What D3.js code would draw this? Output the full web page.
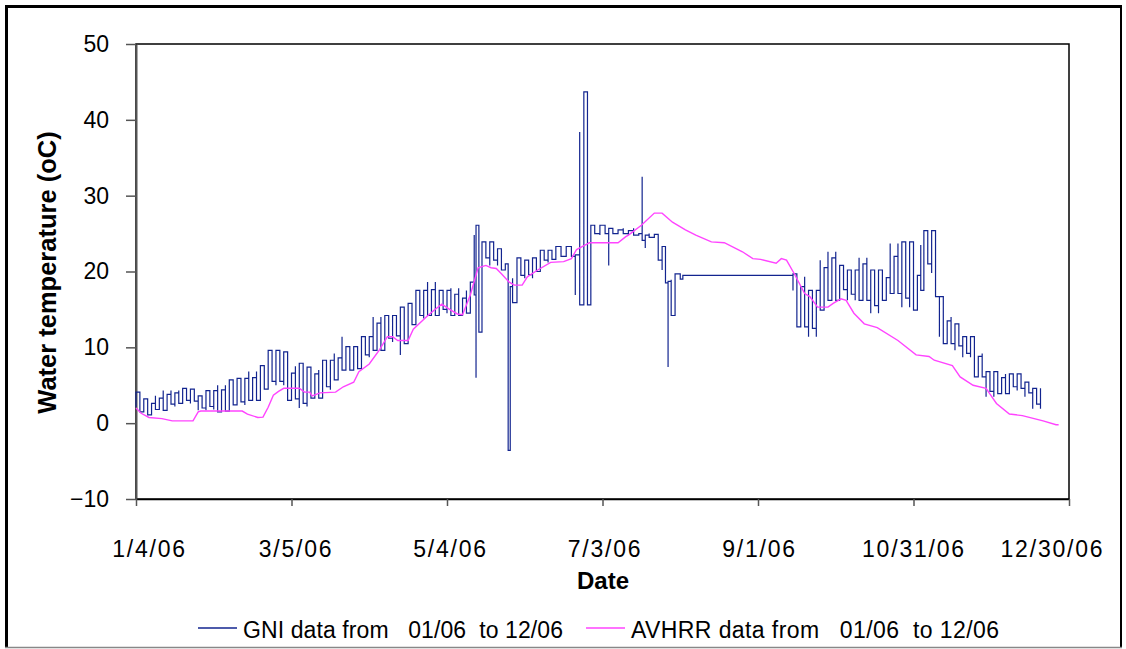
<!DOCTYPE html>
<html>
<head>
<meta charset="utf-8">
<script src="https://cdn.jsdelivr.net/npm/d3@7"></script>
<style>
  body { margin: 0; background: #fff; }
  svg { display: block; }
  text { font-family: 'Liberation Sans', Arial, sans-serif; fill: #000; }
</style>
</head>
<body>
<div id="chart"></div>
<script>
// days are counted from 1/4/06
let gniDay = [0, 1.5, 3, 4.5, 6, 7.5, 9, 10.5, 12, 13.5, 15, 16.5, 18, 19.5, 21, 22.5, 24, 25.5, 27, 28.5,
  30, 31.5, 33, 34.5, 36, 37.5, 39, 40.5, 42, 43.5, 45, 46.5, 48, 49.5, 51, 52.5, 54, 55.5, 57, 58.5,
  60, 61.5, 63, 64.5, 66, 67.5, 69, 70.5, 72, 73.5, 75, 76.5, 78, 79.5, 81, 82.5, 84, 85.5, 87, 88.5,
  90, 91.5, 93, 94.5, 96, 97.5, 99, 100.5, 102, 103.5, 105, 106.5, 108, 109.5, 111, 112.5, 114, 115.5, 117, 118.5,
  120, 121.5, 123, 124.5, 126, 127.5, 129, 130.5, 131.2, 132.3, 133.5, 135, 136.5, 138, 139.5, 141, 142.5, 143.6, 144.4, 145.3,
  147, 148.5, 150, 151.5, 153, 154.5, 156, 157.5, 159, 160.5, 162, 164, 166, 168, 169.5, 171.2, 172.8, 174.2, 175.5, 177,
  179, 181, 182.4, 184, 186, 188, 190, 192, 194, 195.3, 196.5, 198, 200, 201.5, 203, 204.3, 205.3, 206.5, 208, 210,
  211, 253, 253.5, 255, 256.5, 258, 259.5, 261, 262.5, 264, 265.5, 267, 268.5, 270, 271.5, 273, 274.5, 276, 277.5, 279,
  280.5, 282, 283.5, 285, 286.5, 288, 289.5, 291, 292.5, 294, 295.5, 297, 298.5, 300, 301.5, 302.8, 304, 305.5, 307, 308.5,
  310, 311.5, 313, 314.5, 316, 317.5, 319, 320.5, 322, 323.5, 325, 326.5, 328, 329.5, 331, 332.5, 334, 335.5, 337, 338.5,
  340, 341.5, 343, 344.5, 346, 347.5, 349]

let gniLow = [2.1, 1.5, 2.0, 1.1, 1.4, 1.8, 2.2, 1.7, 2.0, 2.5, 2.2, 2.6, 2.6, 3.0, 2.6, 2.9, 1.7, 2.0, 1.7, 2.2,
  1.8, 1.5, 2.0, 1.6, 1.7, 2.4, 2.4, 2.8, 2.4, 3.0, 3.4, 3.0, 4.1, 4.5, 4.8, 5.5, 5.0, 5.5, 5.0, 3.0,
  3.7, 3.2, 2.0, 2.6, 2.2, 3.3, 3.5, 3.3, 4.3, 4.8, 4.4, 5.7, 6.0, 7.0, 7.5, 7.0, 7.6, 7.2, 8.7, 9.0,
  8.7, 9.6, 10.2, 9.6, 10.7, 11.2, 10.7, 11.5, 9.0, 10.5, 12.7, 13.0, 13.8, 14.2, 13.8, 14.2, 14.8, 14.2, 14.5, 15.0,
  14.5, 14.2, 15.0, 14.2, 14.2, 14.5, 16.4, 16.9, 6.0, 12.0, 22.5, 21.8, 20.8, 21.5, 20.8, 20.2, 20.5, -3.6, 3.7, 15.9,
  19.1, 19.5, 19.1, 19.6, 19.1, 20.0, 21.2, 21.5, 21.2, 21.6, 21.9, 22.0, 21.9, 22.0, 16.9, 15.6, 15.8, 15.6, 24.8, 25.0,
  24.8, 25.0, 20.8, 25.0, 24.9, 25.0, 24.8, 24.8, 24.8, 24.1, 23.1, 24.5, 24.5, 21.5, 20.2, 18.5, 7.4, 14.2, 18.9, 19.0,
  19.5, 19.5, 17.5, 12.7, 14.0, 12.7, 11.4, 12.5, 11.4, 14.9, 15.5, 16.2, 17.0, 16.2, 17.1, 17.6, 16.2, 17.0, 16.2, 16.2,
  17.5, 16.2, 14.5, 15.5, 14.5, 16.2, 17.0, 17.1, 18.0, 17.1, 15.3, 16.5, 15.3, 14.9, 16.0, 17.5, 19.8, 21.0, 19.8, 16.7,
  11.4, 10.5, 11.2, 10.5, 9.6, 10.2, 8.7, 9.2, 8.7, 6.1, 6.8, 6.1, 3.5, 4.2, 3.5, 3.9, 4.5, 3.9, 4.3, 4.8,
  4.3, 4.6, 3.5, 4.0, 1.9, 2.5, 1.9]

let gniHigh = [4.1, 3.5, 3.2, 3.0, 2.6, 3.6, 3.3, 4.3, 3.8, 4.3, 4.0, 4.3, 4.6, 4.2, 4.5, 4.0, 3.6, 3.2, 4.3, 3.9,
  4.3, 5.0, 4.4, 5.0, 5.7, 5.0, 5.9, 5.5, 5.9, 6.8, 6.0, 6.8, 7.6, 7.0, 9.6, 9.0, 9.6, 9.2, 9.4, 7.9,
  6.6, 7.5, 7.9, 7.0, 7.4, 7.0, 6.5, 7.0, 8.3, 7.6, 8.3, 9.2, 8.6, 11.4, 10.1, 9.6, 10.1, 9.2, 11.4, 10.8,
  11.4, 14.0, 13.2, 14.0, 14.2, 13.6, 14.2, 13.8, 15.3, 14.5, 15.8, 15.0, 17.5, 16.6, 17.5, 18.6, 17.6, 18.6, 17.5, 16.8,
  17.5, 17.8, 17.0, 17.8, 16.5, 17.5, 18.6, 24.8, 26.1, 25.9, 23.9, 23.2, 23.9, 23.3, 23.0, 21.3, 21.0, 20.6, 18.0, 19.1,
  21.8, 21.2, 21.5, 21.0, 21.8, 21.2, 22.8, 22.2, 22.8, 22.5, 23.3, 22.6, 23.3, 22.4, 22.2, 38.4, 43.7, 42.5, 26.1, 25.8,
  26.1, 25.6, 25.7, 25.7, 25.5, 25.7, 25.4, 25.7, 25.0, 32.5, 24.8, 25.0, 24.9, 23.5, 23.3, 20.2, 18.7, 18.9, 19.7, 19.5,
  19.5, 19.5, 19.7, 19.3, 18.0, 19.3, 17.5, 16.0, 17.5, 21.5, 20.5, 22.6, 21.8, 22.6, 20.8, 20.2, 20.2, 19.6, 20.2, 21.8,
  21.0, 21.8, 20.2, 19.5, 20.2, 19.8, 19.2, 23.7, 22.0, 23.7, 23.9, 22.5, 23.9, 20.2, 19.5, 23.5, 25.4, 24.5, 25.4, 21.5,
  16.7, 14.0, 13.5, 14.0, 13.1, 12.5, 11.4, 11.0, 11.4, 9.2, 8.8, 9.2, 6.8, 6.2, 6.8, 6.5, 6.0, 6.5, 6.5, 6.0,
  6.5, 5.8, 5.4, 5.0, 4.6, 4.0, 4.6]

let avhrrDay = [0, 2, 5, 10, 14, 22, 24, 25, 41, 43, 47, 49, 51, 53, 55, 57, 63, 65, 67, 68,
  71, 77, 80, 84, 86, 90, 94, 97, 99, 101, 105, 107, 112, 115, 118, 121, 124, 126, 129, 132,
  135, 137, 139, 141, 144, 146, 149, 151, 155, 160, 165, 168, 170, 175, 186, 189, 190, 195, 200, 203,
  207, 212, 216, 222, 227, 234, 238, 241, 247, 249, 251, 254, 258, 260, 263, 267, 269, 272, 274, 277,
  281, 286, 294, 301, 306, 308, 315, 318, 323, 328, 332, 337, 342, 350, 355, 356]

let avhrrTemp = [2.0, 1.3, 0.75, 0.6, 0.3, 0.3, 1.5, 1.6, 1.6, 1.2, 0.75, 0.8, 2.1, 3.7, 4.2, 4.6, 4.6, 4.1, 4.1, 3.6,
  4.0, 4.1, 4.8, 5.4, 6.8, 7.8, 9.7, 11.4, 11.4, 10.9, 10.9, 12.4, 14.0, 14.9, 15.7, 15.0, 14.4, 14.3, 16.9, 20.5,
  20.8, 20.5, 20.4, 19.7, 18.6, 18.2, 18.2, 19.3, 20.2, 21.2, 21.3, 21.7, 22.9, 23.8, 23.8, 24.6, 24.8, 26.1, 27.7, 27.7,
  26.5, 25.5, 24.8, 23.9, 23.8, 22.6, 21.7, 21.6, 21.1, 21.7, 21.5, 19.7, 17.1, 16.7, 15.3, 15.3, 15.8, 16.4, 16.2, 14.5,
  13.1, 12.6, 10.9, 9.0, 8.8, 8.3, 7.6, 6.1, 5.0, 4.6, 2.6, 1.2, 1.0, 0.3, -0.2, -0.2]

let xTickDates = ['2006-01-04', '2006-03-05', '2006-05-04', '2006-07-03', '2006-09-01', '2006-10-31', '2006-12-30']
let yTickValues = [-10, 0, 10, 20, 30, 40, 50]

let width = 1126
let height = 649
let margin = { top: 44, left: 136, right: 57, bottom: 150 }

let parseDate = d3.timeParse('%Y-%m-%d')
let startDate = parseDate('2006-01-04')
let dayToDate = d => new Date(startDate.getTime() + d * 864e5)

let svg = d3
  .select('#chart')
  .append('svg')
  .attr('width', width)
  .attr('height', height)

// outer frame
svg.append('line').attr('x1', 6.5).attr('y1', 5).attr('x2', 6.5).attr('y2', 648)
  .attr('stroke', '#000').attr('stroke-width', 3)
svg.append('line').attr('x1', 5).attr('y1', 6.5).attr('x2', 1122).attr('y2', 6.5)
  .attr('stroke', '#000').attr('stroke-width', 3)
svg.append('line').attr('x1', 1121).attr('y1', 5).attr('x2', 1121).attr('y2', 648)
  .attr('stroke', '#000').attr('stroke-width', 2)
svg.append('line').attr('x1', 5).attr('y1', 647.5).attr('x2', 1122).attr('y2', 647.5)
  .attr('stroke', '#888').attr('stroke-width', 1.5)

let x = d3
  .scaleTime()
  .domain([startDate, parseDate('2006-12-30')])
  .range([margin.left, width - margin.right])

let y = d3
  .scaleLinear()
  .domain([-10, 50])
  .range([height - margin.bottom, margin.top])

// plot area border
svg
  .append('rect')
  .attr('x', x.range()[0])
  .attr('y', y.range()[1])
  .attr('width', x.range()[1] - x.range()[0])
  .attr('height', y.range()[0] - y.range()[1])
  .attr('fill', 'none')
  .attr('stroke', '#000')
  .attr('stroke-width', 1.5)

let yAxis = svg
  .append('g')
  .attr('transform', `translate(${margin.left},0)`)
  .call(d3.axisLeft(y).tickValues(yTickValues).tickSize(10).tickPadding(17).tickSizeOuter(0))

yAxis.select('.domain').attr('stroke', '#555').attr('stroke-width', 2)
yAxis.selectAll('.tick line').attr('stroke', '#555').attr('stroke-width', 1.5)
yAxis.selectAll('.tick text').attr('font-size', 23).attr('font-family', null)

let xAxis = svg
  .append('g')
  .attr('transform', `translate(0,${y(-10)})`)
  .call(
    d3.axisBottom(x)
      .tickValues(xTickDates.map(parseDate))
      .tickSize(7)
      .tickSizeOuter(0)
      .tickFormat(d3.timeFormat('%-m/%-d/%y'))
  )

xAxis.select('.domain').attr('stroke', '#000').attr('stroke-width', 1.5)
xAxis.selectAll('.tick line').attr('stroke', '#555').attr('stroke-width', 1.5)
xAxis
  .selectAll('.tick text')
  .attr('font-size', 23)
  .attr('font-family', null)
  .attr('letter-spacing', 1.8)
  .attr('y', 58)
  .attr('dy', 0)
  .attr('dx', (d, i) => (i === 0 ? 13 : i === xTickDates.length - 1 ? -17 : 5 - i))

// axis titles
svg
  .append('text')
  .attr('transform', `translate(56,${(y(50) + y(-10)) / 2 + 1}) rotate(-90)`)
  .attr('text-anchor', 'middle')
  .attr('font-size', 25.5)
  .attr('font-weight', 'bold')
  .text('Water temperature (oC)')

svg
  .append('text')
  .attr('x', 603)
  .attr('y', 589)
  .attr('text-anchor', 'middle')
  .attr('font-size', 24)
  .attr('font-weight', 'bold')
  .text('Date')

// GNI: each entry drawn as a vertical sweep from low to high
let gniPoints = []
gniDay.forEach((d, i) => {
  let t = dayToDate(d)
  if (i % 2 === 0) gniPoints.push([t, gniLow[i]], [t, gniHigh[i]])
  else gniPoints.push([t, gniHigh[i]], [t, gniLow[i]])
})

let stepLine = d3
  .line()
  .x(p => x(p[0]))
  .y(p => y(p[1]))
  .curve(d3.curveStepAfter)

svg
  .append('path')
  .datum(gniPoints)
  .attr('d', stepLine)
  .attr('fill', 'none')
  .attr('stroke', '#12248f')
  .attr('stroke-width', 1.2)

let avhrrLine = d3
  .line()
  .x((d, i) => x(dayToDate(d)))
  .y((d, i) => y(avhrrTemp[i]))

svg
  .append('path')
  .datum(avhrrDay)
  .attr('d', avhrrLine)
  .attr('fill', 'none')
  .attr('stroke', '#ff44ff')
  .attr('stroke-width', 1.4)

// legend
let legendY = 628
let legend = [
  { label: 'GNI data from   01/06  to 12/06', color: '#12248f', x: 198, len: 320 },
  { label: 'AVHRR data from   01/06  to 12/06', color: '#ff44ff', x: 586, len: 368 }
]

legend.forEach(l => {
  svg
    .append('line')
    .attr('x1', l.x)
    .attr('x2', l.x + 39)
    .attr('y1', legendY)
    .attr('y2', legendY)
    .attr('stroke', l.color)
    .attr('stroke-width', 1.3)

  svg
    .append('text')
    .attr('x', l.x + 45)
    .attr('y', legendY + 10)
    .attr('font-size', 23)
    .attr('textLength', l.len)
    .attr('lengthAdjust', 'spacing')
    .style('white-space', 'pre')
    .text(l.label)
})
</script>
</body>
</html>
